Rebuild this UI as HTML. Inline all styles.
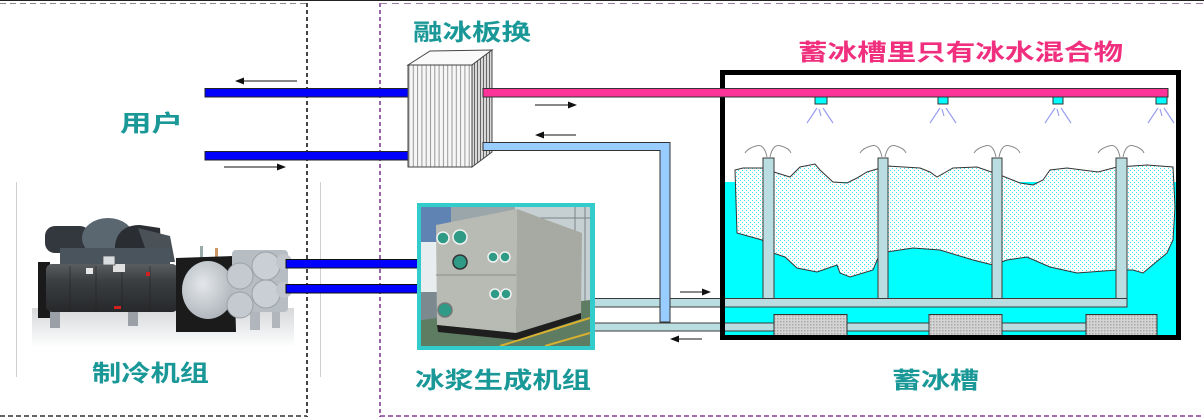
<!DOCTYPE html>
<html><head><meta charset="utf-8"><style>
html,body{margin:0;padding:0;background:#fff;}
svg{display:block;}
text{font-family:"Liberation Sans","Noto Sans CJK SC","WenQuanYi Zen Hei",sans-serif;font-weight:bold;}
</style></head><body>
<svg width="1204" height="420" viewBox="0 0 1204 420" xmlns="http://www.w3.org/2000/svg">
<defs>
  <pattern id="dots" width="4" height="4" patternUnits="userSpaceOnUse">
    <rect width="4" height="4" fill="#fff"/>
    <rect x="0" y="0" width="1" height="1" fill="#33e8f0"/>
    <rect x="2" y="2" width="1" height="1" fill="#33e8f0"/>
  </pattern>
  <pattern id="hatch" width="3" height="3" patternUnits="userSpaceOnUse">
    <rect width="3" height="3" fill="#d4d4d4"/>
    <rect x="0" y="0" width="1.5" height="1.5" fill="#a8a8a8"/>
  </pattern>
  <pattern id="stripes" width="4.3" height="10" patternUnits="userSpaceOnUse">
    <rect width="4.3" height="10" fill="#f6f6f6"/>
    <rect x="0" y="0" width="1" height="10" fill="#999"/>
  </pattern>
  <pattern id="stripes2" width="3" height="10" patternUnits="userSpaceOnUse">
    <rect width="3" height="10" fill="#d8d8d8"/>
    <rect x="0" y="0" width="1" height="10" fill="#666"/>
  </pattern>
  <linearGradient id="shell" x1="0" y1="0" x2="0" y2="1">
    <stop offset="0" stop-color="#5a5d60"/>
    <stop offset="0.35" stop-color="#3c3f42"/>
    <stop offset="1" stop-color="#26282a"/>
  </linearGradient>
  <linearGradient id="refl" x1="0" y1="0" x2="0" y2="1">
    <stop offset="0" stop-color="#d6d8da"/>
    <stop offset="1" stop-color="#ffffff"/>
  </linearGradient>
  <radialGradient id="dome" cx="0.4" cy="0.4" r="0.7">
    <stop offset="0" stop-color="#e4e7ea"/>
    <stop offset="1" stop-color="#a9b0b6"/>
  </radialGradient>
  <clipPath id="photo"><rect x="421" y="207" width="169" height="139"/></clipPath>
</defs>

<!-- frame lines -->
<line x1="0" y1="0.5" x2="1204" y2="0.5" stroke="#222" stroke-width="1"/>
<line x1="0" y1="3.5" x2="307" y2="3.5" stroke="#8a8a8a" stroke-width="1" stroke-dasharray="6,4"/>
<line x1="307" y1="3" x2="307" y2="417" stroke="#444" stroke-width="2" stroke-dasharray="4,3"/>
<line x1="0" y1="416" x2="307" y2="416" stroke="#333" stroke-width="1.5" stroke-dasharray="5,3"/>
<line x1="380" y1="3" x2="380" y2="417" stroke="#9a64a8" stroke-width="2" stroke-dasharray="4,3"/>
<line x1="380" y1="3.5" x2="1204" y2="3.5" stroke="#9a80a8" stroke-width="1" stroke-dasharray="7,5"/>
<line x1="380" y1="416" x2="1204" y2="416" stroke="#8a3a9a" stroke-width="1.5" stroke-dasharray="5,3"/>
<line x1="16.5" y1="182" x2="16.5" y2="377" stroke="#cfcfcf" stroke-width="1"/>
<line x1="320.5" y1="182" x2="320.5" y2="377" stroke="#cfcfcf" stroke-width="1"/>

<!-- user pipes -->
<rect x="205" y="88.5" width="205" height="8.5" fill="#0000ff" stroke="#222" stroke-width="1"/>
<rect x="205" y="151.5" width="205" height="8.5" fill="#0000ff" stroke="#222" stroke-width="1"/>

<!-- arrows -->
<g stroke="#111" stroke-width="1" fill="#111">
  <line x1="297" y1="81" x2="242" y2="81"/><polygon points="235,81 244,77.5 244,84.5" stroke="none"/>
  <line x1="224" y1="167" x2="279" y2="167"/><polygon points="286,167 277,163.5 277,170.5" stroke="none"/>
  <line x1="535" y1="105" x2="569" y2="105"/><polygon points="577,105 568,101.5 568,108.5" stroke="none"/>
  <line x1="576" y1="135" x2="542" y2="135"/><polygon points="535,135 544,131.5 544,138.5" stroke="none"/>
  <line x1="680" y1="292" x2="704" y2="292"/><polygon points="711,292 702,288.5 702,295.5" stroke="none"/>
  <line x1="702" y1="339" x2="677" y2="339"/><polygon points="670,339 679,335.5 679,342.5" stroke="none"/>
</g>

<!-- heat exchanger -->
<polygon points="408,65 430,51 492,50 472,65" fill="#fafafa" stroke="#444" stroke-width="1"/>
<polygon points="472,65 492,50 492,152 472,167" fill="url(#stripes2)" stroke="#444" stroke-width="1"/>
<rect x="408" y="65" width="64" height="102" fill="url(#stripes)" stroke="#444" stroke-width="1"/>

<!-- tank -->
<rect x="725" y="75" width="453" height="263" fill="#fff"/>
<rect x="725" y="182" width="453" height="156" fill="#00ffff"/>
<path d="M735,170 L737,233 L762,240 L773,253 L785,257 L797,268 L817,272 L837,265 L840,273 L850,277 L873,270 L880,253 L913,248 L940,250 L973,260 L993,265 L1007,260 L1027,257 L1050,267 L1077,273 L1117,270 L1133,270 L1143,273 L1167,253 L1173,240 L1175,207 L1173,167 L1147,165 L1117,167 L1098,172 L1067,168 L1050,170 L1043,180 L1033,185 L1020,183 L1000,175 L977,167 L953,168 L937,177 L930,172 L920,168 L887,166 L867,172 L857,178 L847,183 L833,182 L820,170 L815,164 L800,167 L790,177 L777,173 L762,168 L743,168 Z" fill="url(#dots)" stroke="#333" stroke-width="1"/>

<!-- fountain arcs -->
<g fill="none" stroke="#8a8a8a" stroke-width="1">
  <path d="M767,157 Q764,143 756,146 Q748,148 745,153"/><path d="M770,157 Q773,143 781,146 Q789,148 791,153"/>
  <path d="M882,157 Q879,143 871,146 Q863,148 860,153"/><path d="M885,157 Q888,143 896,146 Q904,148 906,153"/>
  <path d="M996,157 Q993,143 985,146 Q977,148 974,153"/><path d="M999,157 Q1002,143 1010,146 Q1018,148 1020,153"/>
  <path d="M1120,157 Q1117,143 1109,146 Q1101,148 1098,153"/><path d="M1123,157 Q1126,143 1134,146 Q1142,148 1144,153"/>
</g>

<!-- vertical tank pipes -->
<g fill="#b9dde0" stroke="#3a3a3a" stroke-width="1">
  <rect x="763" y="158" width="11" height="141"/>
  <rect x="878" y="158" width="10" height="141"/>
  <rect x="992" y="158" width="10" height="141"/>
  <rect x="1116" y="158" width="11" height="141"/>
  <rect x="593" y="298.5" width="534" height="8.5"/>
</g>
<path d="M483,142.5 L670,142.5 L670,322 L660,322 L660,150.5 L483,150.5 Z" fill="#99ccff" stroke="#333" stroke-width="1"/>
<rect x="593" y="323" width="564" height="8" fill="#b9dde0" stroke="#3a3a3a" stroke-width="1"/>
<g fill="url(#hatch)" stroke="#333" stroke-width="1">
  <rect x="774" y="314.5" width="73" height="23.5"/>
  <rect x="929" y="314.5" width="73" height="23.5"/>
  <rect x="1086" y="314.5" width="71" height="23.5"/>
</g>
<rect x="722.5" y="72.5" width="456" height="265" fill="none" stroke="#000" stroke-width="5"/>

<!-- pink pipe + nozzles -->
<rect x="483" y="88.5" width="685" height="8.5" fill="#ff3399" stroke="#333" stroke-width="1"/>
<g fill="#00ffff" stroke="#333" stroke-width="1">
  <rect x="815" y="97" width="12" height="7"/>
  <rect x="938" y="97" width="10" height="7"/>
  <rect x="1053" y="97" width="10" height="7"/>
  <rect x="1156" y="97" width="11" height="7"/>
</g>
<g stroke="#9aa0f0" stroke-width="1.2" fill="none">
  <path d="M817,108 L807,123 M823,108 L833,123 M819,109 L821,116"/>
  <path d="M940,108 L930,123 M946,108 L956,123 M942,109 L944,116"/>
  <path d="M1055,108 L1045,123 M1061,108 L1071,123 M1057,109 L1059,116"/>
  <path d="M1158,108 L1148,123 M1164,108 L1174,123 M1160,109 L1162,116"/>
</g>

<!-- chiller illustration -->
<rect x="32" y="308" width="262" height="40" fill="url(#refl)"/>
<g>
  <rect x="50" y="312" width="10" height="16" fill="#9aa0a6"/>
  <rect x="128" y="312" width="10" height="14" fill="#9aa0a6"/>
  <rect x="250" y="308" width="10" height="22" fill="#b0b6bc"/>
  <rect x="272" y="306" width="8" height="22" fill="#b0b6bc"/>
  <!-- compressor -->
  <rect x="45" y="226" width="45" height="27" rx="10" fill="#33383e"/>
  <ellipse cx="108" cy="238" rx="26" ry="20" fill="#5a6670"/>
  <path d="M115,262 L115,245 Q118,225 140,225 L160,228 L162,262 Z" fill="#2a2e33"/>
  <path d="M138,228 L170,236 L175,262 L150,262 Z" fill="#4a5258"/>
  <rect x="60" y="248" width="110" height="18" fill="#4a545c"/>
  <!-- left support -->
  <rect x="38" y="262" width="12" height="56" fill="#1a1a1a"/>
  <!-- shell -->
  <rect x="46" y="264" width="132" height="48" rx="6" fill="url(#shell)"/>
  <g stroke="#222" stroke-width="1" opacity="0.6">
    <line x1="70" y1="266" x2="70" y2="310"/><line x1="96" y1="266" x2="96" y2="310"/>
    <line x1="122" y1="266" x2="122" y2="310"/><line x1="150" y1="266" x2="150" y2="310"/>
  </g>
  <rect x="113" y="264" width="12" height="8" fill="#e0e0e0"/>
  <rect x="86" y="268" width="7" height="6" fill="#e8e8e8"/>
  <rect x="146" y="272" width="4" height="4" fill="#d02020"/>
  <rect x="114" y="306" width="7" height="3" fill="#d02020"/>
  <rect x="103" y="256" width="12" height="9" fill="#d8dcdf" stroke="#555" stroke-width="0.8"/>
  <rect x="200" y="246" width="3" height="14" fill="#9aa"/>
  <rect x="215" y="248" width="3" height="12" fill="#c96"/>
  <!-- right end -->
  <polygon points="176,258 234,256 236,332 176,332" fill="#1b1b1b"/>
  <ellipse cx="208" cy="290" rx="26" ry="29" fill="url(#dome)"/>
  <rect x="232" y="250" width="56" height="62" rx="4" fill="#b6bdc3"/>
  <circle cx="240" cy="276" r="13" fill="#c4cacf" stroke="#9aa1a7" stroke-width="1"/>
  <circle cx="240" cy="305" r="13" fill="#c4cacf" stroke="#9aa1a7" stroke-width="1"/>
  <circle cx="266" cy="266" r="14" fill="#c9cfd4" stroke="#9aa1a7" stroke-width="1"/>
  <circle cx="266" cy="294" r="14" fill="#c9cfd4" stroke="#9aa1a7" stroke-width="1"/>
  <circle cx="284" cy="262" r="8" fill="#c0c6cb"/>
  <circle cx="284" cy="290" r="8" fill="#c0c6cb"/>
</g>

<!-- chiller to slurry machine pipes -->
<rect x="286" y="259.5" width="132" height="8.5" fill="#0000ff" stroke="#111" stroke-width="1"/>
<rect x="286" y="284.5" width="132" height="8.5" fill="#0000ff" stroke="#111" stroke-width="1"/>

<!-- ice slurry machine photo -->
<rect x="417" y="203" width="178" height="147" fill="#33cccc"/>
<g clip-path="url(#photo)">
  <rect x="421" y="207" width="169" height="139" fill="#9aa6aa"/>
  <rect x="421" y="207" width="30" height="35" fill="#5f84b4"/>
  <rect x="421" y="242" width="22" height="50" fill="#e8eef0"/>
  <rect x="421" y="292" width="22" height="40" fill="#7c8a90"/>
  <rect x="515" y="207" width="75" height="110" fill="#c6d0d2"/>
  <g stroke="#7a8488" stroke-width="1"><line x1="585" y1="207" x2="585" y2="320"/><line x1="575" y1="207" x2="575" y2="320"/><line x1="520" y1="218" x2="590" y2="218"/></g>
  <polygon points="421,320 590,300 590,346 421,346" fill="#5e7c62"/>
  <g stroke="#d8b030" stroke-width="2"><line x1="500" y1="346" x2="590" y2="318"/><line x1="545" y1="346" x2="590" y2="333"/></g>
  <polygon points="517,209 582,233 581,313 516,333" fill="#a6aaa2"/>
  <polygon points="436,225 517,209 516,333 437,325" fill="#b8bbb3"/>
  <line x1="436" y1="275" x2="516" y2="275" stroke="#8a8e88" stroke-width="1"/>
  <polygon points="437,325 516,333 581,313 581,319 516,340 438,332" fill="#1e1e1e"/>
  <g fill="#2f9a86" stroke="#f2f2f2" stroke-width="1.5">
    <circle cx="443" cy="238" r="6"/><circle cx="460" cy="237" r="7"/>
    <circle cx="460" cy="262" r="7" stroke="#333"/>
    <circle cx="493" cy="257" r="5"/><circle cx="505" cy="257" r="5"/>
    <circle cx="495" cy="294" r="5"/><circle cx="506" cy="294" r="5"/>
    <circle cx="445" cy="310" r="7" stroke="#777"/>
  </g>
</g>

<!-- labels -->
<text x="120" y="131" font-size="23" fill="#1a9898" textLength="63" lengthAdjust="spacingAndGlyphs">用户</text>
<text x="413" y="40" font-size="23" fill="#1a9898" textLength="118" lengthAdjust="spacingAndGlyphs">融冰板换</text>
<text x="798" y="60" font-size="23" fill="#f0307f" textLength="325" lengthAdjust="spacingAndGlyphs">蓄冰槽里只有冰水混合物</text>
<text x="892" y="388" font-size="23" fill="#1a9898" textLength="87" lengthAdjust="spacingAndGlyphs">蓄冰槽</text>
<text x="415" y="388" font-size="23" fill="#1a9898" textLength="176" lengthAdjust="spacingAndGlyphs">冰浆生成机组</text>
<text x="92" y="381" font-size="23" fill="#1a9898" textLength="117" lengthAdjust="spacingAndGlyphs">制冷机组</text>
</svg>
</body></html>
